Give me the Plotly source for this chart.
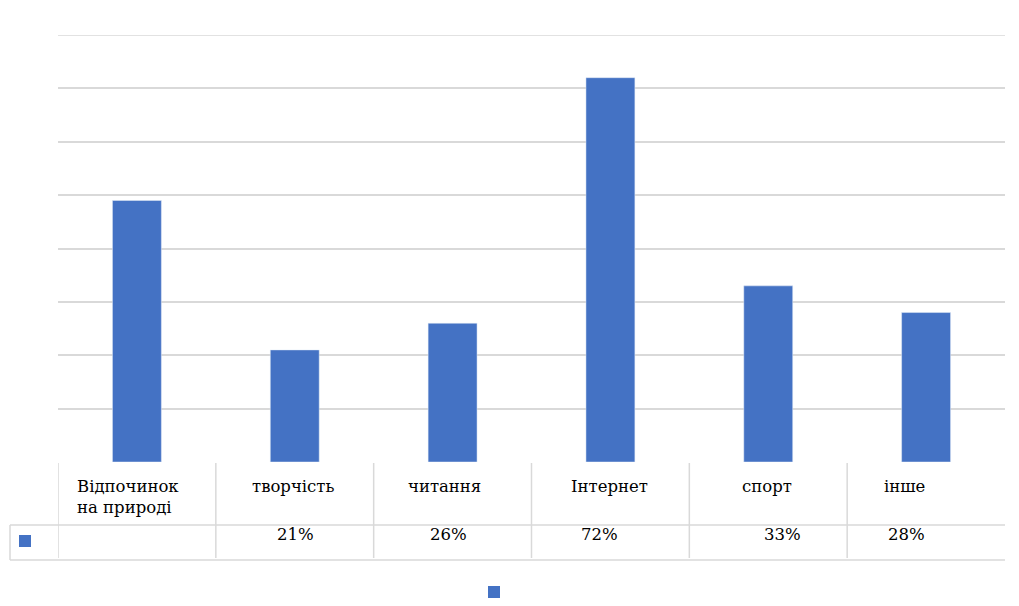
import plotly.graph_objects as go

categories = ["Відпочинок<br>на природі", "творчість", "читання", "Інтернет", "спорт", "інше"]
values = [49, 21, 26, 72, 33, 28]
table_values = ["", "21%", "26%", "72%", "33%", "28%"]
grid_ticks = [10, 20, 30, 40, 50, 60, 70, 80]

# small horizontal nudges (px) of the table text, as in the reference
header_nudge = [0, -2, -8, -1, -1, -22]
value_nudge = [0, 1, -4, -11, 14, -20]

BLUE = "#4472C4"
LINE = "#d9d9d9"
FONT = "DejaVu Serif"
FS = 16.5

OFF = 8  # page body margin
W, H = 1011, 598
ml, mr, mt, mb = 58 - OFF, 14, 35 - OFF, 144
ph = H - mt - mb
pw = W - ml - mr


def py(pix):
    return (H - mb - (pix - OFF)) / ph


def px(pix):
    return (pix - OFF - ml) / pw


n = len(categories)
xs = list(range(n))

fig = go.Figure()
fig.add_trace(go.Bar(x=xs, y=values, marker=dict(color=BLUE), width=0.31,
                     showlegend=False, hoverinfo="skip"))

shapes = []
shapes.append(dict(type="line", xref="paper", yref="y", x0=0, x1=1, y0=grid_ticks[-1],
                   y1=grid_ticks[-1], line=dict(color=LINE, width=1.5), layer="below"))
for yy in (525, 560):
    shapes.append(dict(type="line", xref="paper", yref="paper", x0=px(10), x1=1.0,
                       y0=py(yy), y1=py(yy), line=dict(color=LINE, width=1.5)))
for i in range(n):
    shapes.append(dict(type="line", xref="x", yref="paper", x0=i - 0.5, x1=i - 0.5,
                       y0=py(463), y1=py(558), line=dict(color=LINE, width=1.5)))
shapes.append(dict(type="line", xref="paper", yref="paper", x0=px(10), x1=px(10),
                   y0=py(525), y1=py(560), line=dict(color=LINE, width=1.5)))
shapes.append(dict(type="rect", xref="paper", yref="paper", x0=px(19), x1=px(31),
                   y0=py(535), y1=py(547), fillcolor=BLUE, line=dict(width=0)))
shapes.append(dict(type="rect", xref="paper", yref="paper", x0=px(488), x1=px(500),
                   y0=py(586), y1=py(598), fillcolor=BLUE, line=dict(width=0)))

annotations = []
for i, (c, v) in enumerate(zip(categories, table_values)):
    if i == 0:
        annotations.append(dict(x=i - 0.5, xref="x", y=py(475), yref="paper", text=c,
                                showarrow=False, xanchor="left", yanchor="top", align="left",
                                xshift=17, font=dict(family=FONT, size=FS, color="#000")))
    else:
        annotations.append(dict(x=i, xref="x", y=py(475), yref="paper", text=c,
                                showarrow=False, xanchor="center", yanchor="top",
                                xshift=header_nudge[i], font=dict(family=FONT, size=FS, color="#000")))
    if v:
        annotations.append(dict(x=i, xref="x", y=py(534), yref="paper", text=v,
                                showarrow=False, xanchor="center", yanchor="middle",
                                xshift=value_nudge[i], font=dict(family=FONT, size=FS, color="#000")))

fig.update_layout(
    width=W, height=H,
    margin=dict(l=ml, r=mr, t=mt, b=mb),
    paper_bgcolor="white", plot_bgcolor="white",
    font=dict(family=FONT),
    xaxis=dict(range=[-0.5, n - 0.5], showticklabels=False, showgrid=False,
               zeroline=False, showline=False, ticks=""),
    yaxis=dict(range=[0, 80], tickvals=grid_ticks, showticklabels=False, showgrid=True,
               gridcolor=LINE, gridwidth=1.5, zeroline=False, showline=False, ticks=""),
    shapes=shapes, annotations=annotations,
    showlegend=False,
)

fig.write_html("out.html")
